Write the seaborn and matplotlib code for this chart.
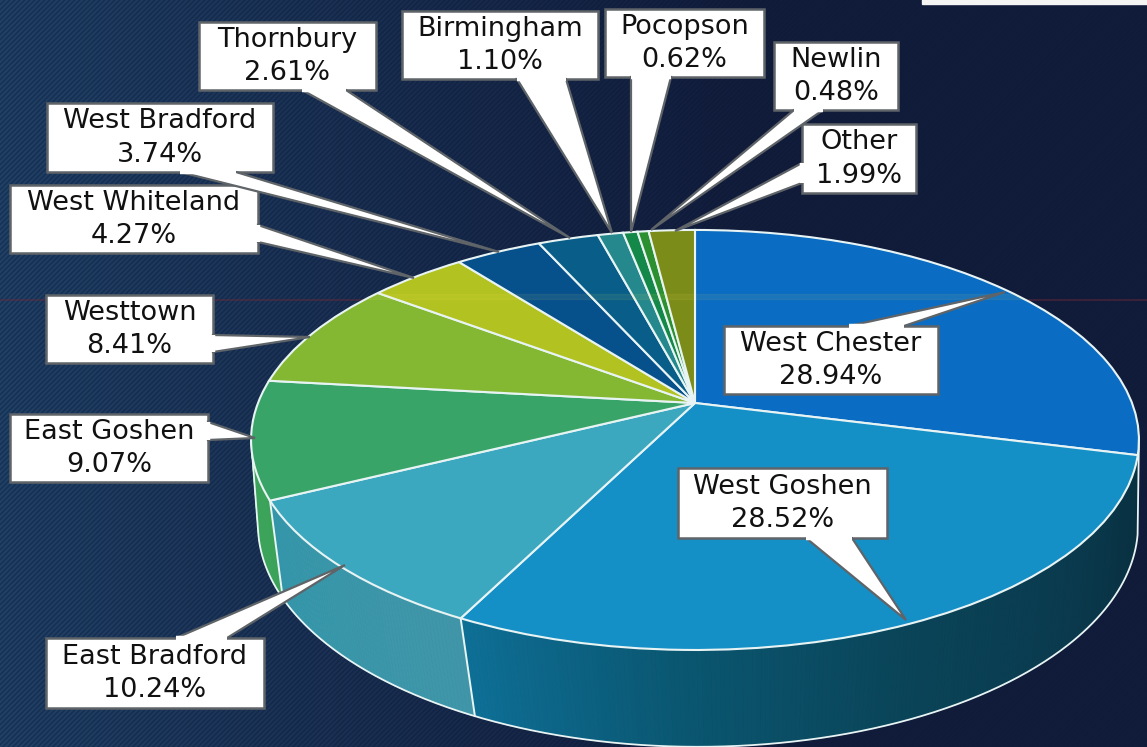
import numpy as np
import matplotlib
matplotlib.use("Agg")
import matplotlib.pyplot as plt
from matplotlib.collections import PolyCollection
from matplotlib.patches import Ellipse, Rectangle
from matplotlib.transforms import Transform
import seaborn as sns

# andeler per kommune, med klokka fra toppen
towns = ["West Chester", "West Goshen", "East Bradford", "East Goshen", "Westtown", "West Whiteland",
         "West Bradford", "Thornbury", "Birmingham", "Pocopson", "Newlin", "Other"]
shares = [28.94, 28.52, 10.24, 9.07, 8.41, 4.27, 3.74, 2.61, 1.10, 0.62, 0.48, 1.99]

top_colors = ["#0a6cc2", "#1590c6", "#3ca8c0", "#38a468", "#84b832", "#b2c220",
              "#06508c", "#085e88", "#24888c", "#148848", "#2c9030", "#7c8c18"]

# sideveggens farger, fra høyre mot venstre
wall_colors = {
    "West Chester": ["#083040", "#083040"],
    "West Goshen": ["#083040", "#0a3a4e", "#0a4458", "#0a5670", "#0e6f96"],
    "East Bradford": ["#4096a8", "#3597ab"],
    "East Goshen": ["#3ca35a", "#3ca35a"],
}

# etikettbokser: venstre, topp, høyre, bunn i piksler
label_boxes = [(724, 326, 938, 394), (678, 468, 887, 538), (46, 638, 264, 708), (10, 414, 208, 482),
               (46, 295, 213, 363), (10, 185, 258, 253), (47, 103, 273, 172), (199, 22, 376, 90),
               (402, 11, 598, 79), (605, 9, 764, 77), (774, 42, 898, 110), (802, 124, 916, 193)]
# pekere: to punkter på boksen og spissen
label_tails = [((849, 326), (904, 326), (1005, 292)), ((806, 538), (852, 538), (906, 620)),
               ((176, 638), (227, 638), (345, 565)), ((208, 422), (208, 440), (255, 438)),
               ((213, 335), (213, 352), (310, 337)), ((258, 225), (258, 242), (414, 278)),
               ((180, 172), (236, 172), (499, 252)), ((302, 90), (346, 90), (570, 238)),
               ((517, 79), (566, 79), (612, 233)), ((631, 77), (671, 77), (631, 232)),
               ((794, 110), (823, 110), (651, 230)), ((802, 163), (802, 183), (675, 231))]

W, H = 1147, 747
TOP = dict(x0=695, y0=403, a=437, b=203.5, k=0.176)
BOTTOM = dict(x0=698, y0=496, a=436.3, b=218.2, k=0.13)
# veggen vises bare mellom disse vinklene
WALL_RIGHT, WALL_LEFT = -10, -170


def project(x, y, x0, y0, a, b, k):
    # perspektiv: enhetssirkel til ellipse i piksler, sentrum havner i (x0, y0)
    d = 1 + k * y
    return x0 + a * x / d, y0 - b * y / d


def rim(degrees, plan):
    t = np.radians(degrees)
    return project(np.cos(t), np.sin(t), **plan)


class Perspektiv(Transform):
    input_dims = 2
    output_dims = 2
    is_affine = False

    def transform_non_affine(self, values):
        v = np.asarray(values)
        x, y = project(v[:, 0], v[:, 1], **TOP)
        return np.column_stack([x, y])


sns.set_theme(style="white")
plt.rcParams["font.family"] = ["DejaVu Sans"]

fig = plt.figure(figsize=(W / 100, H / 100), dpi=100)
ax = fig.add_axes([0, 0, 1, 1])

# topplaten
wedges, _ = ax.pie(shares, colors=sns.color_palette(top_colors), startangle=90, counterclock=False,
                   wedgeprops=dict(transform=Perspektiv() + ax.transData, edgecolor="#e8f4f4",
                                   linewidth=1.5, zorder=2))
ax.set_aspect("auto")
ax.axis("off")

# bakgrunn med skrå struktur
yy, xx = np.mgrid[0:H, 0:W]
fade = np.clip(1 - xx / 800, 0, 1)
bg = np.zeros((H, W, 3))
for i, (venstre, hoyre) in enumerate([(28, 17), (58, 27), (94, 58)]):
    bg[:, :, i] = venstre + (hoyre - venstre) * np.clip(xx / 750, 0, 1)
bg += (7 * fade + 1)[:, :, None] * np.sin(2 * np.pi * (xx + yy) / 5)[:, :, None]
ax.imshow(np.clip(bg, 0, 255).astype(np.uint8), extent=(0, W, H, 0), aspect="auto", zorder=0,
          interpolation="bilinear")
ax.set_xlim(0, W)
ax.set_ylim(H, 0)
ax.axhline(300, color="#6a2a3a", alpha=0.45, lw=1.5, zorder=0.2)
ax.add_patch(Rectangle((922, -2), 240, 6, color="#f4f4f2", zorder=0.3))

# sidevegg, tegnet i smale striper
edges = 90 - 360 * np.concatenate([[0], np.cumsum(shares)]) / np.sum(shares)
polys, poly_colors = [], []
for i, town in enumerate(towns):
    if town not in wall_colors:
        continue
    start, end = min(edges[i], WALL_RIGHT), max(edges[i + 1], WALL_LEFT)
    n = max(8, int((start - end) * 2))
    tt = np.linspace(start, end, n + 1)
    xt, yt = rim(tt, TOP)
    xb, yb = rim(tt, BOTTOM)
    pal = sns.blend_palette(wall_colors[town], n)
    for j in range(n):
        polys.append([(xt[j], yt[j]), (xt[j + 1], yt[j + 1]), (xb[j + 1], yb[j + 1]), (xb[j], yb[j])])
        poly_colors.append(pal[j])
    # kant mellom sektorene på veggen
    if town in ("West Goshen", "East Bradford"):
        ax.plot([xt[-1], xb[-1]], [yt[-1], yb[-1]], color="#e8f4f4", lw=1.4, zorder=1.5)
ax.add_collection(PolyCollection(polys, facecolors=poly_colors, edgecolors=poly_colors, linewidths=0.6, zorder=1))

# underkant og silhuett, fra topp til bunn på begge sider
xb, yb = rim(np.linspace(WALL_RIGHT, WALL_LEFT, 400), BOTTOM)
xt, yt = rim(np.array([WALL_RIGHT, WALL_LEFT]), TOP)
ax.plot(np.r_[xt[0], xb, xt[1]], np.r_[yt[0], yb, yt[1]], color="#e8f4f4", lw=1.3, zorder=1.5)

# lys stripe fra skanningen over topplaten
band = ax.axhspan(294, 299, color="#ffee66", alpha=0.07, zorder=2.5)
band.set_clip_path(Ellipse((696, 440), 888, 420, transform=ax.transData))

# etiketter
for town, share, box, tail in zip(towns, shares, label_boxes, label_tails):
    left, top, right, bottom = box
    ax.add_patch(Rectangle((left, top), right - left, bottom - top, facecolor="white", edgecolor="#5f6468",
                           lw=1.8, zorder=5))
    ax.fill([p[0] for p in tail], [p[1] for p in tail], facecolor="white", edgecolor="#5f6468", lw=1.6, zorder=5.1)
    # fjern boksens kant der pekeren starter
    ax.plot([tail[0][0], tail[1][0]], [tail[0][1], tail[1][1]], color="white", lw=3.2,
            solid_capstyle="butt", zorder=5.2)
    ax.text((left + right) / 2, (top + bottom) / 2 + 0.5, f"{town}\n{share:.2f}%", ha="center", va="center",
            fontsize=19.5, color="#111111", linespacing=1.38, zorder=6)

fig.savefig("out.png", dpi=100)
